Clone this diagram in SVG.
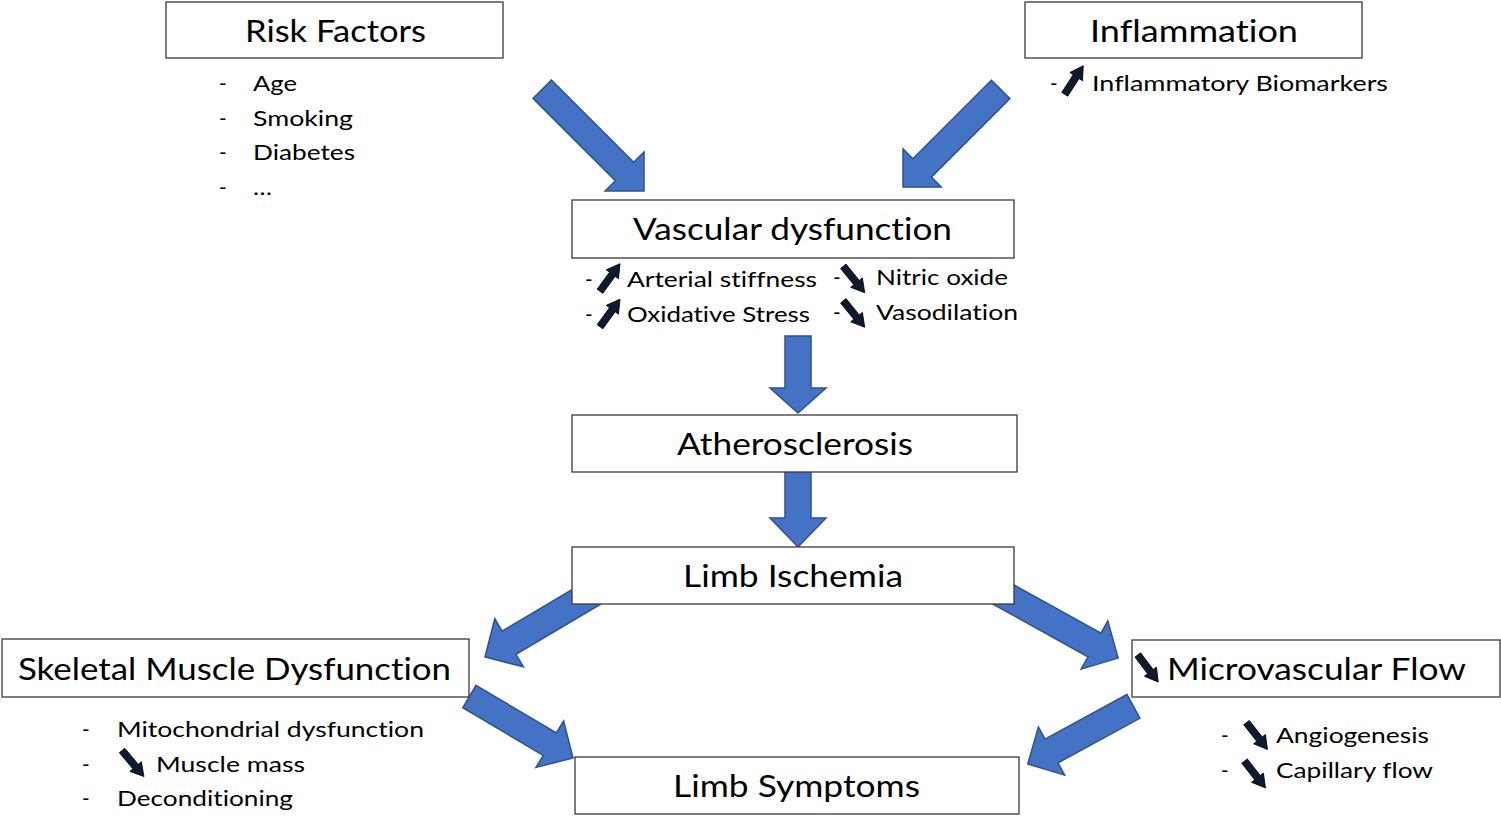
<svg xmlns="http://www.w3.org/2000/svg" xmlns:xlink="http://www.w3.org/1999/xlink" width="1501" height="816" viewBox="0 0 1501 816">
<style>
.box{fill:#fff;stroke:#3a3a3a;stroke-width:1.3}
.big{font-family:Lato,"Open Sans","Liberation Sans",sans-serif;font-size:30.5px;fill:#000;font-variant-ligatures:none;font-feature-settings:"liga" 0,"dlig" 0}
.sm{font-family:Lato,"Open Sans","Liberation Sans",sans-serif;font-size:20.5px;fill:#000;font-variant-ligatures:none;font-feature-settings:"liga" 0,"dlig" 0}
.blk{fill:#4472C4;stroke:#2F528F;stroke-width:1.5;stroke-linejoin:miter}
.ic{fill:#0e1a30;stroke:#000;stroke-width:0.8}
</style>
<defs>
<path id="sa" d="M-3.5,17 L-3.5,-4 L-7.5,-4 L0,-17 L7.5,-4 L3.5,-4 L3.5,17 Z"/>
</defs>
<rect width="1501" height="816" fill="#fff"/>
<g id="connectors">
<polygon class="blk" points="533.0,98.4 615.3,180.7 605.1,191.0 644,191 644,152.1 633.7,162.3 551.4,80.0"/>
<polygon class="blk" points="1009.8,98.6 931.3,177.1 941.2,187 903,187 903,148.8 912.9,158.7 991.4,80.2"/>
<polygon class="blk" points="785,336 811,336 811,388 826,388 798,413 770,388 785,388"/>
<polygon class="blk" points="785,466 811,466 811,518 826,518 798,547 770,518 785,518"/>
<polygon class="blk" points="587.2,580.7 502.2,631.1 494.8,618.6 485,657 523.4,666.8 516.0,654.3 601,603.9"/>
<polygon class="blk" points="476.0,685.3 556.4,733.0 563.6,721.0 573,758 536.0,767.4 543.2,755.4 462.8,707.7"/>
<polygon class="blk" points="996.0,575.0 1101.0,633.2 1107.8,620.9 1118.1,658.1 1081.2,669.1 1088.0,656.8 983.0,598.6"/>
<polygon class="blk" points="1127.0,694.5 1045.0,739.1 1038.4,726.9 1027.8,763.9 1064.6,775.1 1058.0,762.9 1139.9,718.3"/>
</g>
<g id="risk-factors">
<rect class="box" x="166" y="2" width="337" height="56"/>
<text class="big" x="245" y="42" textLength="181" lengthAdjust="spacingAndGlyphs">Risk Factors</text>
<text class="sm" x="219" y="91">-</text><text class="sm" x="253" y="91" textLength="44" lengthAdjust="spacingAndGlyphs">Age</text>
<text class="sm" x="219" y="125.5">-</text><text class="sm" x="253" y="125.5" textLength="100" lengthAdjust="spacingAndGlyphs">Smoking</text>
<text class="sm" x="219" y="160">-</text><text class="sm" x="253" y="160" textLength="102" lengthAdjust="spacingAndGlyphs">Diabetes</text>
<text class="sm" x="219" y="195">-</text><text class="sm" x="253" y="195" textLength="19" lengthAdjust="spacingAndGlyphs">…</text>
</g>
<g id="inflammation">
<rect class="box" x="1025" y="2" width="337" height="56"/>
<text class="big" x="1090" y="42" textLength="208" lengthAdjust="spacingAndGlyphs">Inflammation</text>
<text class="sm" x="1050" y="91">-</text>
<use href="#sa" class="ic" transform="translate(1074,80) rotate(33)"/>
<text class="sm" x="1092" y="91" textLength="296" lengthAdjust="spacingAndGlyphs">Inflammatory Biomarkers</text>
</g>
<g id="vascular-dysfunction">
<rect class="box" x="572" y="200" width="442" height="58"/>
<text class="big" x="633" y="240" textLength="319" lengthAdjust="spacingAndGlyphs">Vascular dysfunction</text>
<text class="sm" x="585" y="287">-</text>
<use href="#sa" class="ic" transform="translate(610,277.5) rotate(36)"/>
<text class="sm" x="627" y="287" textLength="190" lengthAdjust="spacingAndGlyphs">Arterial stiffness</text>
<text class="sm" x="585" y="322">-</text>
<use href="#sa" class="ic" transform="translate(610,313) rotate(36)"/>
<text class="sm" x="627" y="322" textLength="183" lengthAdjust="spacingAndGlyphs">Oxidative Stress</text>
<text class="sm" x="833" y="285">-</text>
<use href="#sa" class="ic" transform="translate(854,279.5) rotate(141)"/>
<text class="sm" x="876" y="285" textLength="132" lengthAdjust="spacingAndGlyphs">Nitric oxide</text>
<text class="sm" x="833" y="320">-</text>
<use href="#sa" class="ic" transform="translate(854,314) rotate(141)"/>
<text class="sm" x="876" y="320" textLength="142" lengthAdjust="spacingAndGlyphs">Vasodilation</text>
</g>
<g id="atherosclerosis">
<rect class="box" x="572" y="415" width="445" height="57"/>
<text class="big" x="677" y="455" textLength="236" lengthAdjust="spacingAndGlyphs">Atherosclerosis</text>
</g>
<g id="limb-ischemia">
<rect class="box" x="572" y="547" width="442" height="57"/>
<text class="big" x="683" y="587" textLength="220" lengthAdjust="spacingAndGlyphs">Limb Ischemia</text>
</g>
<g id="skeletal-muscle-dysfunction">
<rect class="box" x="2" y="639" width="467" height="58"/>
<text class="big" x="18" y="680" textLength="433" lengthAdjust="spacingAndGlyphs">Skeletal Muscle Dysfunction</text>
<text class="sm" x="82" y="737">-</text>
<text class="sm" x="117" y="737" textLength="307" lengthAdjust="spacingAndGlyphs">Mitochondrial dysfunction</text>
<text class="sm" x="82" y="772">-</text>
<use href="#sa" class="ic" transform="translate(133,763.5) rotate(140)"/>
<text class="sm" x="156" y="772" textLength="149" lengthAdjust="spacingAndGlyphs">Muscle mass</text>
<text class="sm" x="82" y="806">-</text>
<text class="sm" x="117" y="806" textLength="176" lengthAdjust="spacingAndGlyphs">Deconditioning</text>
</g>
<g id="microvascular-flow">
<rect class="box" x="1132" y="640" width="368" height="57"/>
<use href="#sa" class="ic" transform="translate(1148,668.5) rotate(143)"/>
<text class="big" x="1167" y="680" textLength="299" lengthAdjust="spacingAndGlyphs">Microvascular Flow</text>
<text class="sm" x="1221" y="743">-</text>
<use href="#sa" class="ic" transform="translate(1257,736) rotate(142)"/>
<text class="sm" x="1276" y="743" textLength="153" lengthAdjust="spacingAndGlyphs">Angiogenesis</text>
<text class="sm" x="1221" y="778">-</text>
<use href="#sa" class="ic" transform="translate(1255,774.5) rotate(142)"/>
<text class="sm" x="1276" y="778" textLength="157" lengthAdjust="spacingAndGlyphs">Capillary flow</text>
</g>
<g id="limb-symptoms">
<rect class="box" x="575" y="757" width="444" height="57"/>
<text class="big" x="673" y="797" textLength="247" lengthAdjust="spacingAndGlyphs">Limb Symptoms</text>
</g>
</svg>
